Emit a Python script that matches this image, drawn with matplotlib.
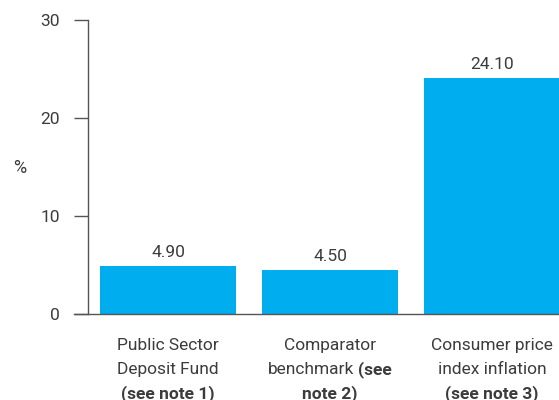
import matplotlib
matplotlib.use("Agg")
import matplotlib.pyplot as plt
from matplotlib.transforms import offset_copy

plt.rcParams["font.family"] = ["Roboto", "DejaVu Sans"]

# data
categories = ["Public Sector Deposit Fund", "Comparator benchmark", "Consumer price index inflation"]
values = [4.90, 4.50, 24.10]
value_labels = ["4.90", "4.50", "24.10"]
# each label line is a list of (text, bold) pieces
label_lines = [
    [[("Public Sector", False)], [("Deposit Fund", False)], [("(see note 1)", True)]],
    [[("Comparator", False)], [("benchmark", False), ("(see", True)], [("note 2)", True)]],
    [[("Consumer price", False)], [("index inflation", False)], [("(see note 3)", True)]],
]
yticks = [0, 10, 20, 30]

BAR = "#00adef"
TXT = "#3c3c3c"
AX = "#555555"
FS = 12.5

W, H = 559, 400
fig = plt.figure(figsize=(W / 100, H / 100), dpi=100)
ax = fig.add_axes([88 / W, 86 / H, 471 / W, 294 / H])

x = list(range(len(values)))
ax.bar(x, values, width=0.84, color=BAR, zorder=2)
ax.set_xlim(-0.494, -0.494 + 471 / 162)
ax.set_ylim(0, 30)

for xi, v, s in zip(x, values, value_labels):
    ax.annotate(s, (xi, v), xytext=(0, 4), textcoords="offset points",
                ha="center", va="bottom", fontsize=FS, color=TXT)

for sp in ["top", "right", "bottom"]:
    ax.spines[sp].set_visible(False)
ax.spines["left"].set_color(AX)
ax.spines["left"].set_linewidth(1.0)
ax.plot([-14 / 471, 1], [0, 0], transform=ax.transAxes, color=AX, lw=1.0, clip_on=False, zorder=3)

ax.set_xticks([])
ax.set_yticks(yticks)
ax.tick_params(axis="y", length=10, width=1.0, color=AX, pad=10, labelsize=FS, labelcolor=TXT)

fig.text(20 / W, 1 - 168 / H, "%", ha="center", va="center", fontsize=FS + 0.5, color=TXT)

# category labels, with bold pieces
renderer = fig.canvas.get_renderer()

def text_width(s, bold):
    t = fig.text(0, 0, s, fontsize=FS, fontweight="bold" if bold else "normal")
    w = t.get_window_extent(renderer).width
    t.remove()
    return w

space = text_width("a a", False) - text_width("aa", False)
line_offsets = [36, 60, 84]  # px below baseline

for xi, lines in zip(x, label_lines):
    for dy, pieces in zip(line_offsets, lines):
        widths = [text_width(s, b) for s, b in pieces]
        total = sum(widths) + space * (len(pieces) - 1)
        left = -total / 2
        for (s, b), w in zip(pieces, widths):
            tr = offset_copy(ax.get_xaxis_transform(), fig=fig, x=left, y=-dy, units="dots")
            ax.text(xi, 0, s, transform=tr, ha="left", va="baseline", fontsize=FS,
                    color=TXT, fontweight="bold" if b else "normal", clip_on=False)
            left += w + space

fig.savefig("out.png", dpi=100)
